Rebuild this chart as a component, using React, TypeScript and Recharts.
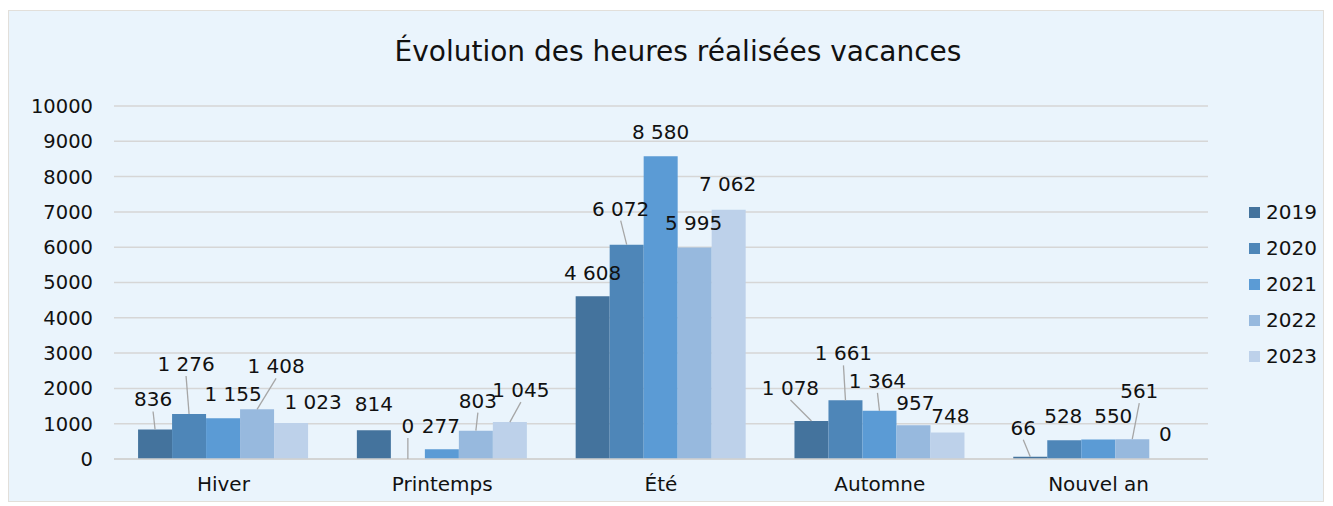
import { BarChart, Bar, XAxis, YAxis, CartesianGrid, LabelList } from 'recharts'

const CATEGORIES = ['Hiver', 'Printemps', 'Été', 'Automne', 'Nouvel an']
const YEARS = ['2019', '2020', '2021', '2022', '2023']
const V2019 = [836, 814, 4608, 1078, 66]
const V2020 = [1276, 0, 6072, 1661, 528]
const V2021 = [1155, 277, 8580, 1364, 550]
const V2022 = [1408, 803, 5995, 957, 561]
const V2023 = [1023, 1045, 7062, 748, 0]
const Y_TICKS = [0, 1000, 2000, 3000, 4000, 5000, 6000, 7000, 8000, 9000, 10000]

const SERIES = [V2019, V2020, V2021, V2022, V2023]
const COLORS = ['#44739d', '#4e86b8', '#5b9bd5', '#97b9de', '#bdd1ea']

// label placement relative to bar top centre: [dx, dy, leader line]
const LABEL_OFFSETS: [number, number, boolean][][] = [
  [[-2, -30, true], [0, -26, false], [0, -23, false], [-21, -33, true], [-7, -29, true]],
  [[-3, -50, true], [0, -33, true], [-6, -36, true], [-2, -47, true], [-1, -24, false]],
  [[10, -24, false], [-1, -23, false], [0, -24, false], [-2, -30, true], [15, -24, false]],
  [[19, -43, true], [2, -30, true], [-1, -24, false], [2, -22, false], [7, -48, true]],
  [[22, -21, false], [11, -32, true], [-1, -26, false], [3, -17, false], [-1, -25, false]],
]

const FONT = '"DejaVu Sans", sans-serif'

const data = CATEGORIES.map((name, i) => {
  const row: Record<string, string | number> = { name }
  YEARS.forEach((y, k) => { row[y] = SERIES[k][i] })
  return row
})

const fmt = (v: number) => String(v).replace(/\B(?=(\d{3})+(?!\d))/g, ' ')

function makeLabel(seriesIdx: number) {
  return (props: any) => {
    const { x, y, width, value, index } = props
    const [dx, dy, leader] = LABEL_OFFSETS[seriesIdx][index]
    const cx = Number(x) + Number(width) / 2
    const top = Number(y)
    const tx = cx + dx
    const ty = top + dy
    return (
      <g>
        {leader && (
          <line x1={cx} y1={top} x2={tx} y2={ty + 12} stroke="#a6a6a6" strokeWidth={1.3} />
        )}
        <text x={tx} y={ty} textAnchor="middle" dominantBaseline="central"
          fontSize={20} fontFamily={FONT} fill="#111">
          {fmt(Number(value))}
        </text>
      </g>
    )
  }
}

export default function App() {
  return (
    <div style={{
      position: 'relative', width: 1314, height: 490, marginTop: 2,
      background: '#eaf4fc', border: '1px solid #e2dfda', fontFamily: FONT,
    }}>
      <div style={{
        position: 'absolute', left: 269, width: 800, top: 22, textAlign: 'center',
        fontSize: 28, color: '#111', lineHeight: '38px',
      }}>
        Évolution des heures réalisées vacances
      </div>
      <BarChart width={1314} height={490} data={data}
        margin={{ top: 95, right: 115, bottom: 12, left: 0 }}
        barCategoryGap="11%" barGap={0}>
        <CartesianGrid vertical={false} stroke="#d6d6d6" strokeWidth={1.5} />
        <XAxis dataKey="name" axisLine={{ stroke: '#d0d0d0', strokeWidth: 1.5 }} tickLine={false}
          tickSize={0} tickMargin={18} height={30} interval={0}
          tick={{ fontSize: 20, fill: '#111', fontFamily: FONT }} />
        <YAxis domain={[0, 10000]} ticks={Y_TICKS} axisLine={false} tickLine={false}
          tickSize={0} tickMargin={21} width={105} interval={0}
          tick={{ fontSize: 19.5, fill: '#111', fontFamily: FONT }} />
        {YEARS.map((y, k) => (
          <Bar key={y} dataKey={y} fill={COLORS[k]} minPointSize={0.01} isAnimationActive={false}>
            <LabelList dataKey={y} content={makeLabel(k)} />
          </Bar>
        ))}
      </BarChart>
      <div style={{ position: 'absolute', left: 1240, top: 183 }}>
        {YEARS.map((y, k) => (
          <div key={y} style={{ display: 'flex', alignItems: 'center', height: 36 }}>
            <span style={{ width: 11, height: 11, background: COLORS[k], marginRight: 6 }} />
            <span style={{ fontSize: 20, color: '#111' }}>{y}</span>
          </div>
        ))}
      </div>
    </div>
  )
}
